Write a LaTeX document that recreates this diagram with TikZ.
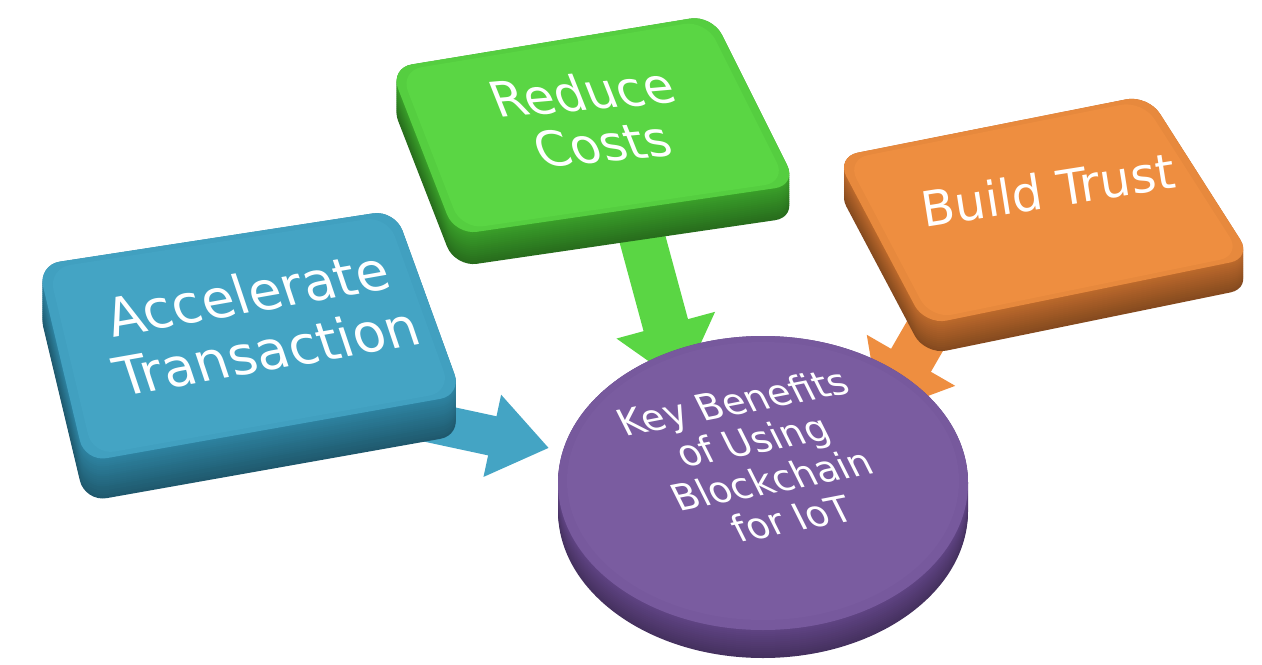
\documentclass[tikz,border=0pt]{standalone}
\usepackage{fontspec}
\setmainfont{DejaVu Sans}
\usetikzlibrary{arrows.meta}
\definecolor{acctop}{RGB}{68,164,196}
\definecolor{accside}{RGB}{46,132,162}
\definecolor{costtop}{RGB}{90,214,68}
\definecolor{costside}{RGB}{58,160,42}
\definecolor{trusttop}{RGB}{238,142,64}
\definecolor{trustside}{RGB}{190,106,44}
\definecolor{hubtop}{RGB}{122,92,160}
\definecolor{hubside}{RGB}{96,68,132}
\tikzstyle{lbl} = [text=white, 
align=center, 
inner sep=0pt]
\tikzstyle{blockarrow} = [line width=23pt,
-{Triangle[length=31pt,width=49pt]}]
\tikzstyle{slab} = [rounded corners=11pt]

\begin{document}
\begin{tikzpicture}[x=0.5pt, y=-0.5pt]
		\useasboundingbox (0,0) rectangle (1262,664);
	
		\coordinate (acc-out) at (400,416);
		\coordinate (hub-w) at (549,448);
		\coordinate (cost-out) at (640,230);
		\coordinate (hub-n) at (682,385);
		\coordinate (trust-out) at (985,232);
		\coordinate (hub-e) at (880,414);
	
		\draw [blockarrow, acctop, line width=20pt, -{Triangle[length=29pt,width=40pt]}] (acc-out) -- (hub-w);
		\draw [blockarrow, costtop] (cost-out) -- (hub-n);
		\draw [blockarrow, trusttop] (trust-out) -- (hub-e);
	
		% blue slab
		\foreach \d [evaluate=\d as \p using int(100-\d*0.8)] in {40,38,...,0}
			\fill [slab, accside!\p!black, shift={(0,\d)}] (38,265) -- (395,210) -- (462,395) -- (85,462) -- cycle;
		\fill [slab, acctop!88!accside] (38,265) -- (395,210) -- (462,395) -- (85,462) -- cycle;
		\fill [slab, acctop, scale around={0.95:(245,330)}] (38,265) -- (395,210) -- (462,395) -- (85,462) -- cycle;
	
		% green slab
		\foreach \d [evaluate=\d as \p using int(100-\d)] in {32,30,...,0}
			\fill [slab, costside!\p!black, shift={(0,\d)}] (390,68) -- (712,15) -- (797,185) -- (455,235) -- cycle;
		\fill [slab, costtop!85!costside] (390,68) -- (712,15) -- (797,185) -- (455,235) -- cycle;
		\fill [slab, costtop, scale around={0.95:(588,123)}] (390,68) -- (712,15) -- (797,185) -- (455,235) -- cycle;
	
		% orange slab
		\foreach \d [evaluate=\d as \p using int(100-\d)] in {30,28,...,0}
			\fill [slab, trustside!\p!black, shift={(0,\d)}] (836,157) -- (1148,95) -- (1252,258) -- (925,325) -- cycle;
		\fill [slab, trusttop!85!trustside] (836,157) -- (1148,95) -- (1252,258) -- (925,325) -- cycle;
		\fill [slab, trusttop, scale around={0.95:(1040,206)}] (836,157) -- (1148,95) -- (1252,258) -- (925,325) -- cycle;
	
		% purple disc
		\foreach \d [evaluate=\d as \p using int(100-\d)] in {28,26,...,0}
			\fill [hubside!\p!black] (763,483+\d) ellipse [x radius=205, y radius=147];
		\fill [hubtop!88!hubside] (763,483) ellipse [x radius=205, y radius=147];
		\fill [hubtop] (763,481) ellipse [x radius=196, y radius=139];
	
		\node (acc) [lbl, rotate=10, xslant=-0.15, font=\fontsize{26.8}{30}\selectfont] at (257,322) {Accelerate\\Transaction};
		\node (cost) [lbl, rotate=5, xslant=-0.3, font=\fontsize{24.5}{26.5}\selectfont] at (592,118) {Reduce\\Costs};
		\node (trust) [lbl, rotate=9, font=\fontsize{24.3}{26}\selectfont] at (1048,190) {Build Trust};
		\node (hub) [lbl, rotate=11, xslant=-0.28, font=\fontsize{18.6}{21}\selectfont] at (762,460) {Key Benefits\\of Using\\Blockchain\\for IoT};
	\end{tikzpicture}
\end{document}
